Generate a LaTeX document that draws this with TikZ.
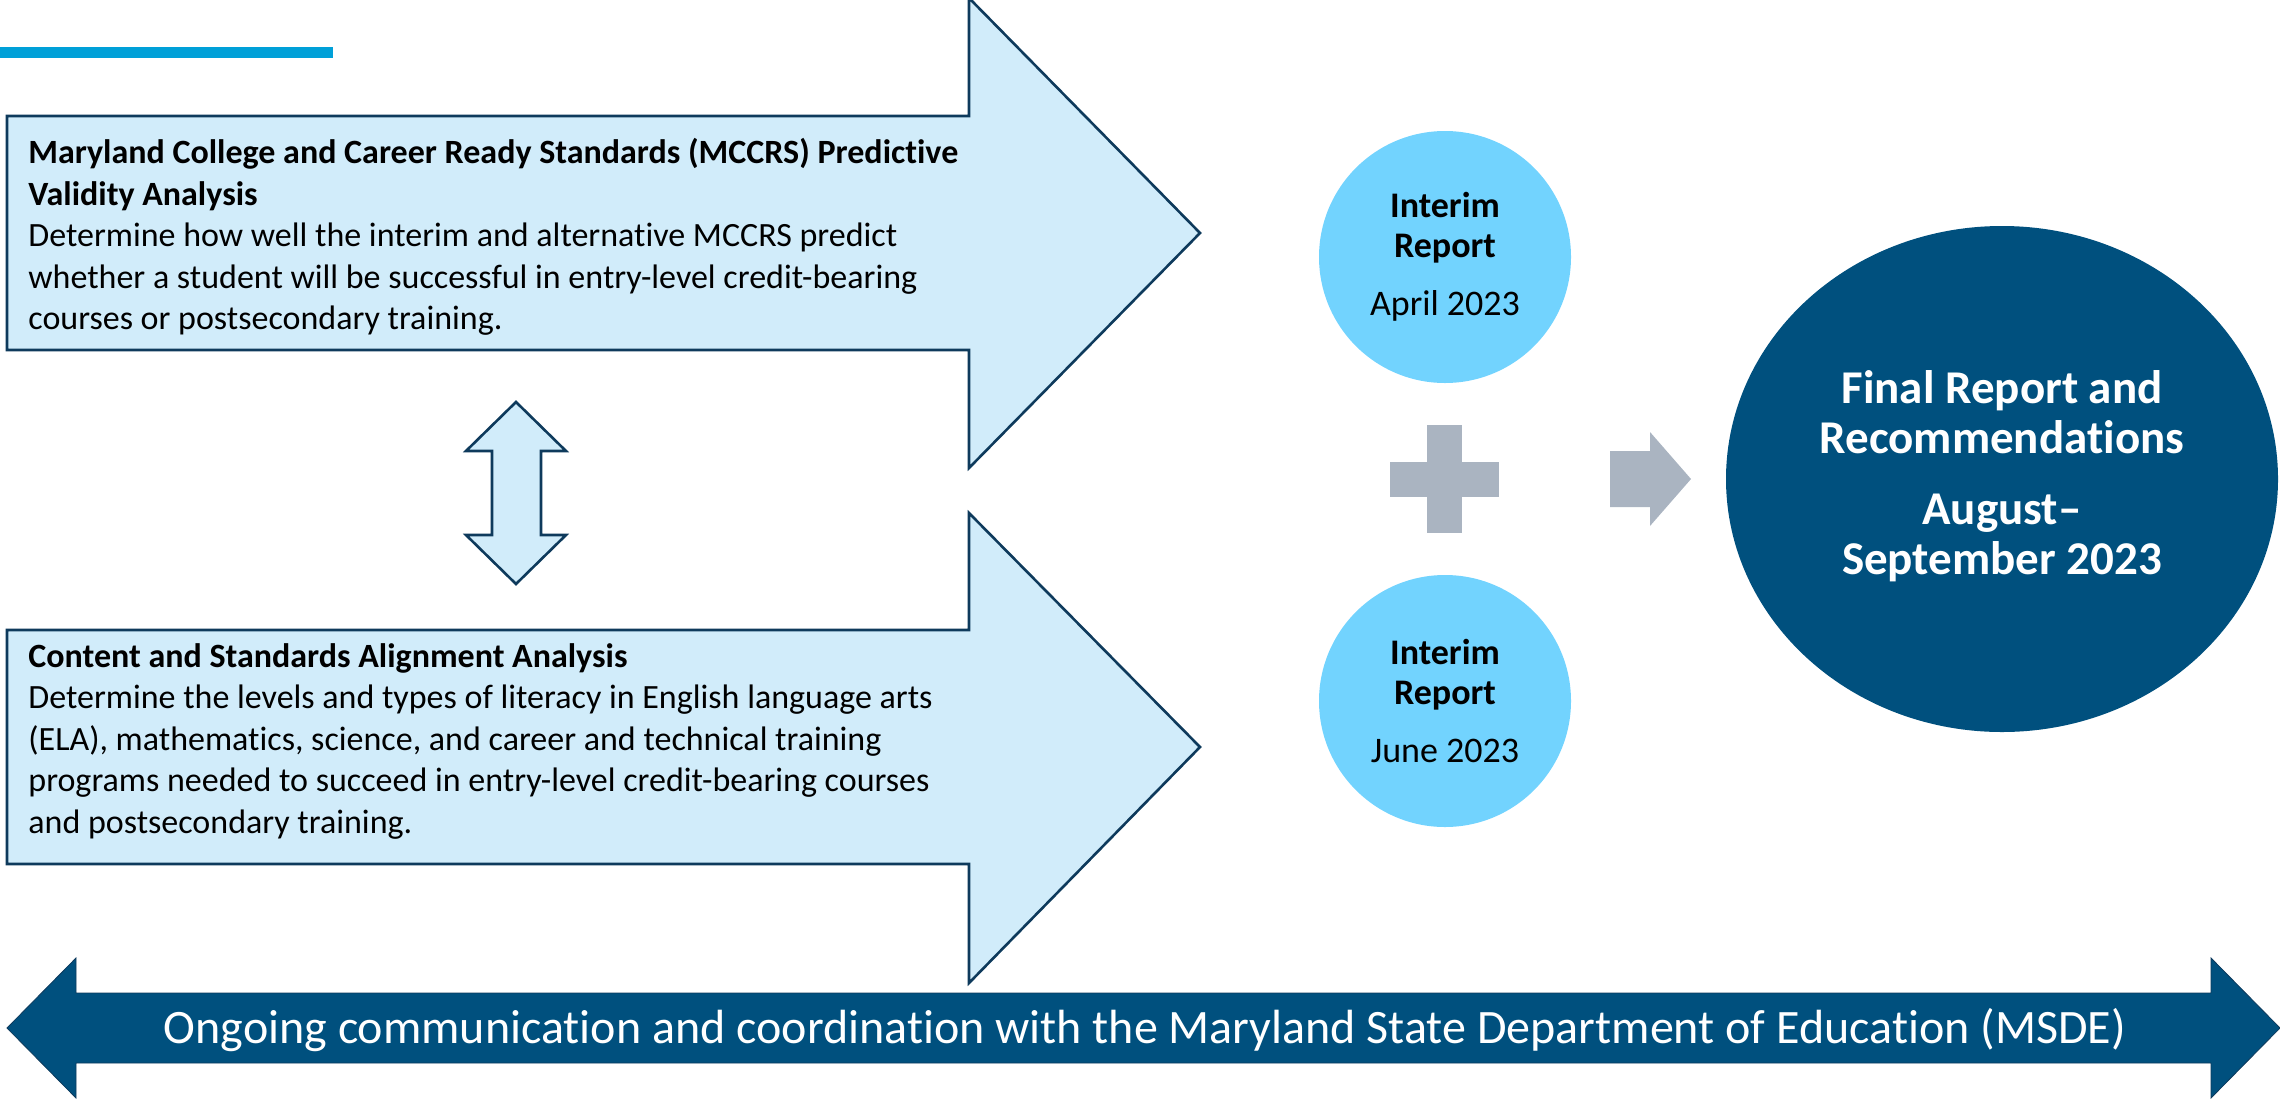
\documentclass[tikz,border=0pt]{standalone}
\usepackage{fontspec}
\setmainfont{Carlito}[Ligatures={TeX,NoCommon}]
\usetikzlibrary{shapes.geometric}

\definecolor{boxfill}{HTML}{D1ECFA}
\definecolor{boxline}{HTML}{0E3A5C}
\definecolor{dotfill}{HTML}{72D3FE}
\definecolor{navy}{HTML}{00507E}
\definecolor{plusgray}{HTML}{AAB4C1}
\definecolor{rulecyan}{HTML}{00A0D8}

\begin{document}
\begin{tikzpicture}[x=0.5pt,y=-0.5pt,
  bigarrow/.style={fill=boxfill,draw=boxline,line width=1.3pt,line join=miter},
  boxtext/.style={anchor=north west,inner sep=0pt,align=left,font=\fontsize{17}{20.75}\selectfont},
  dot/.style={circle,fill=dotfill,minimum size=126pt,inner sep=0pt,align=center,font=\fontsize{18}{20}\selectfont},
  grayshape/.style={fill=plusgray}]
\useasboundingbox (0,0) rectangle (2280,1098);

\fill[rulecyan] (0,47) rectangle (333,58);

\draw[bigarrow] (7,116) -- (969,116) -- (969,-2) -- (1200,233) -- (969,468) -- (969,350) -- (7,350) -- cycle;
\draw[bigarrow] (7,630) -- (969,630) -- (969,513) -- (1200,747) -- (969,983) -- (969,864) -- (7,864) -- cycle;

\node[boxtext] (mccrs) at (28,138) {\textbf{Maryland College and Career Ready Standards (MCCRS) Predictive}\\
  \textbf{Validity Analysis}\\
  Determine how well the interim and alternative MCCRS predict\\
  whether a student will be successful in entry-level credit-bearing\\
  courses or postsecondary training.};
\node[boxtext] (align) at (28,643) {\textbf{Content and Standards Alignment Analysis}\\
  Determine the levels and types of literacy in English language arts\\
  (ELA), mathematics, science, and career and technical training\\
  programs needed to succeed in entry-level credit-bearing courses\\
  and postsecondary training.};

\draw[bigarrow] (516,402) -- (566,451) -- (541,451) -- (541,535) -- (566,535) -- (516,584)
  -- (466,535) -- (492,535) -- (492,451) -- (466,451) -- cycle;

\node[dot] (int1) at (1445,257) {\textbf{Interim}\\\textbf{Report}\\[9pt]April 2023\rule[-3pt]{0pt}{1pt}};
\node[dot] (int2) at (1445,701) {\textbf{Interim}\\\textbf{Report}\\[9pt]June 2023};

\fill[grayshape] (1390,462) rectangle (1499,497);
\fill[grayshape] (1427,425) rectangle (1462,533);
\fill[grayshape] (1610,451) -- (1650,451) -- (1650,432) -- (1691,479) -- (1650,526) -- (1650,507) -- (1610,507) -- cycle;

\node[ellipse,fill=navy,minimum width=276pt,minimum height=253pt,inner sep=0pt] (final) at (2002,479) {};
\node[align=center,text=white,inner sep=0pt,font=\fontsize{23.5}{25}\selectfont\bfseries] (finallbl) at ([yshift=1.5pt]final.center)
  {Final Report and\\Recommendations\\[10.5pt]August\textendash\\September 2023};

\draw[fill=navy,draw=boxline,line width=0.4pt] (7,1028) -- (76,958) -- (76,993) -- (2211,993) -- (2211,958) -- (2280,1028)
  -- (2211,1098) -- (2211,1063) -- (76,1063) -- (76,1098) -- cycle;
\node[anchor=base,text=white,inner sep=0pt,font=\fontsize{24}{28}\selectfont] (comm) at (1145,1043)
  {Ongoing communication and coordination with the Maryland State Department of Education (MSDE)};
\end{tikzpicture}
\end{document}
